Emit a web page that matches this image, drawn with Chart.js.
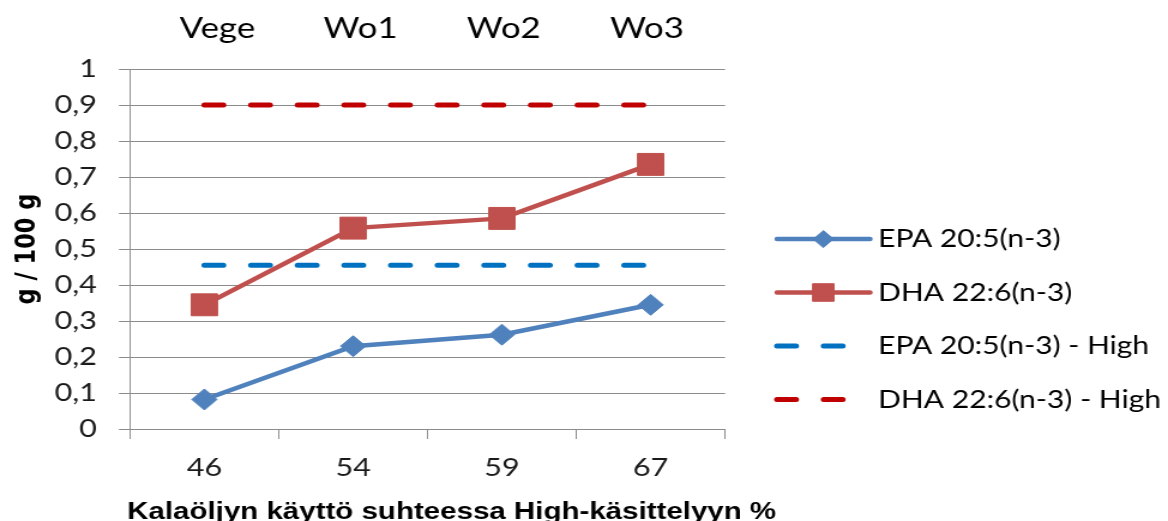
<!DOCTYPE html>
<html>
<head>
<meta charset="utf-8">
<script src="https://cdn.jsdelivr.net/npm/chart.js@4.4.1/dist/chart.umd.min.js"></script>
<style>
html,body{margin:0;padding:0;background:#fff;overflow:hidden;}
#wrap{width:974px;height:521px;position:relative;transform:scaleX(1.19918);transform-origin:0 0;}
</style>
</head>
<body>
<div id="wrap"><canvas id="c" width="974" height="521"></canvas></div>
<script>
// ---- data ----
const categories = ['46', '54', '59', '67'];
const topCategories = ['Vege', 'Wo1', 'Wo2', 'Wo3'];
const epa = [0.082, 0.23, 0.262, 0.345];
const dha = [0.345, 0.558, 0.585, 0.735];
const epaHigh = [0.455, 0.455, 0.455, 0.455];
const dhaHigh = [0.9, 0.9, 0.9, 0.9];
const seriesNames = ['EPA 20:5(n-3)', 'DHA 22:6(n-3)', 'EPA 20:5(n-3) - High', 'DHA 22:6(n-3) - High'];
const yTicks = [0, 0.1, 0.2, 0.3, 0.4, 0.5, 0.6, 0.7, 0.8, 0.9, 1];
const xTitle = 'Kalaöljyn käyttö suhteessa High-käsittelyyn %';
const yTitle = 'g / 100 g';

const FONT = 'Lato, "Open Sans", sans-serif';
const BFONT = '"DejaVu Sans", "Open Sans", sans-serif';
const XTFONT = '"Liberation Sans", Arial, sans-serif';
const GRID = '#8c8c8c';

const customLegend = {
  id: 'customLegend',
  afterDraw(chart, args, opts) {
    const ctx = chart.ctx;
    ctx.save();
    chart.data.datasets.forEach((ds, i) => {
      const y = opts.y0 + i * opts.step;
      ctx.strokeStyle = ds.borderColor;
      ctx.lineWidth = ds.borderWidth;
      ctx.lineCap = 'round';
      ctx.setLineDash(ds.borderDash || []);
      ctx.beginPath();
      ctx.moveTo(opts.x0, y);
      ctx.lineTo(opts.x0 + opts.len, y);
      ctx.stroke();
      ctx.setLineDash([]);
      if (ds.pointRadius > 0) {
        ctx.fillStyle = ds.pointBackgroundColor;
        ctx.strokeStyle = ds.pointBorderColor;
        ctx.lineWidth = ds.pointBorderWidth || 1;
        const cx = opts.x0 + opts.len / 2;
        Chart.helpers.drawPoint(ctx, {pointStyle: ds.pointStyle, radius: ds.pointRadius * opts.markerScale,
          borderWidth: ds.pointBorderWidth || 1, rotation: 0}, cx, y);
      }
      ctx.fillStyle = '#000';
      ctx.font = opts.font;
      ctx.textAlign = 'left';
      ctx.textBaseline = 'middle';
      ctx.fillText(ds.label, opts.x0 + opts.len + opts.gap, y);
    });
    // x-axis title (wider than the axis, so drawn without maxWidth compression)
    ctx.fillStyle = '#000';
    ctx.font = opts.xTitleFont;
    ctx.textAlign = 'left';
    ctx.textBaseline = 'alphabetic';
    ctx.fillText(xTitle, opts.xTitleX, opts.xTitleY);
    ctx.restore();
  }
};

new Chart(document.getElementById('c'), {
  type: 'line',
  data: {
    labels: categories,
    datasets: [
      { label: seriesNames[0], data: epa, borderColor: '#4F81BD', backgroundColor: '#4F81BD', borderWidth: 4.5,
        pointStyle: 'rectRot', pointRadius: 10.5, pointBackgroundColor: '#4F81BD', pointBorderColor: '#4F81BD', pointBorderWidth: 1, tension: 0 },
      { label: seriesNames[1], data: dha, borderColor: '#C0504D', backgroundColor: '#C0504D', borderWidth: 4.5,
        pointStyle: 'rect', pointRadius: 15.5, pointBackgroundColor: '#C0504D', pointBorderColor: '#C0504D', pointBorderWidth: 1, tension: 0 },
      { label: seriesNames[2], data: epaHigh, borderColor: '#0070C0', borderWidth: 5, borderDash: [15.8, 23.1], borderCapStyle: 'round',
        pointRadius: 0, tension: 0 },
      { label: seriesNames[3], data: dhaHigh, borderColor: '#C00000', borderWidth: 5, borderDash: [15.8, 23.1], borderCapStyle: 'round',
        pointRadius: 0, tension: 0 }
    ]
  },
  options: {
    responsive: false,
    animation: false,
    events: [],
    layout: { padding: { left: 0, right: 369.4, top: 0, bottom: 0 } },
    plugins: {
      legend: { display: false },
      tooltip: { enabled: false },
      customLegend: { x0: 648, y0: 239, step: 53.5, len: 77.5, gap: 6.7, markerScale: 0.8, font: '25px ' + FONT,
        xTitleFont: 'bold 24.6px ' + XTFONT, xTitleX: 106, xTitleY: 518.5 }
    },
    scales: {
      x: {
        type: 'category', position: 'bottom', offset: true,
        grid: { display: true, drawOnChartArea: false, drawTicks: true, tickLength: 10, offset: true, color: GRID, lineWidth: 1 },
        border: { display: true, color: GRID, width: 1 },
        ticks: { color: '#1a1a1a', font: { family: FONT, size: 25.5 }, padding: 13 },
        title: { display: false },
        afterFit: s => { s.height = 92; }
      },
      xTop: {
        type: 'linear', position: 'top', min: -0.61, max: 3.545,
        afterBuildTicks: s => { s.ticks = topCategories.map((_, i) => ({ value: i })); },
        grid: { display: false, drawTicks: false },
        border: { display: false },
        ticks: { color: '#000', font: { family: FONT, size: 29 }, padding: 23, autoSkip: false, maxRotation: 0,
          callback: v => topCategories[v] },
        afterFit: s => { s.height = 69; }
      },
      y: {
        min: 0, max: 1,
        afterBuildTicks: s => { s.ticks = yTicks.map(v => ({ value: v })); },
        grid: { color: GRID, lineWidth: 1, tickLength: 9.2, drawTicks: true },
        border: { display: true, color: GRID, width: 1 },
        ticks: { color: '#1a1a1a', font: { family: FONT, size: 25.5 }, padding: 18.3,
          callback: v => (v === 0 || v === 1) ? String(v) : v.toFixed(1).replace('.', ',') },
        title: { display: true, text: yTitle, color: '#000', font: { family: BFONT, size: 22.5, weight: 'bold' },
          padding: { top: 10, bottom: 0 } },
        afterFit: s => { s.width = 108.4; }
      }
    }
  },
  plugins: [customLegend]
});
</script>
</body>
</html>
